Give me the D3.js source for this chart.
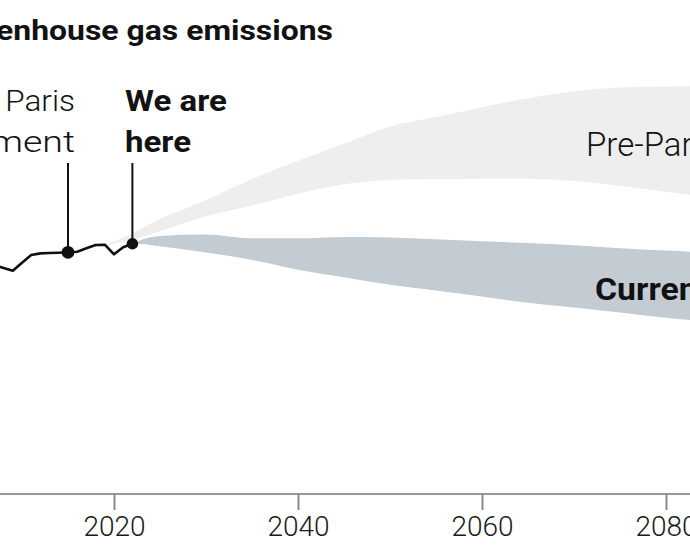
<!DOCTYPE html>
<html>
<head>
<meta charset="utf-8">
<script src="https://cdn.jsdelivr.net/npm/d3@7"></script>
<style>
  html, body { margin: 0; padding: 0; background: #fff; overflow: hidden; }
  svg { display: block; }
</style>
</head>
<body>
<svg id="chart" width="690" height="549"></svg>
<script>
// ---- Data (emissions, arbitrary Gt CO2e-like units) ----
const histYears  = [2007, 2008, 2009, 2010, 2011, 2012, 2013, 2014, 2015, 2016, 2017, 2018, 2019, 2020, 2021, 2022];
const histValues = [48.7, 48.1, 47.5, 49.2, 50.85, 51.2, 51.28, 51.34, 51.43, 51.55, 52.28, 52.98, 53.04, 51.0, 52.49, 53.24];

const preYears = [2019, 2022, 2025, 2030, 2035, 2040, 2045, 2050, 2055, 2060, 2065, 2070, 2075, 2080, 2085];
const preHigh  = [52.9, 55.5, 58.5, 62.5, 67.0, 70.9, 74.5, 78.2, 80.2, 82.3, 84.2, 85.7, 86.5, 86.7, 86.8];
const preLow   = [52.9, 54.1, 55.9, 59.1, 61.4, 63.9, 65.9, 66.8, 67.0, 67.1, 67.1, 66.6, 65.6, 64.3, 63.0];

const curYears = [2022, 2023, 2025, 2030, 2035, 2040, 2045, 2050, 2055, 2060, 2065, 2070, 2075, 2080, 2085];
const curHigh  = [53.24, 54.1, 54.9, 55.2, 54.4, 54.4, 54.7, 54.6, 54.2, 53.8, 53.4, 52.9, 52.3, 51.8, 51.3];
const curLow   = [53.24, 53.2, 52.7, 51.4, 49.8, 47.7, 46.1, 44.5, 43.3, 42.0, 40.7, 39.7, 38.6, 37.5, 36.6];

const tickYears = [2000, 2020, 2040, 2060, 2080];
const markers = [
  { year: 2015, lines: ["Paris", "agreement"], bold: false },
  { year: 2022, lines: ["We are", "here"], bold: true }
];
const title = "Greenhouse gas emissions";
const seriesLabels = { pre: "Pre-Paris policies", cur: "Current policies" };

// ---- Layout ----
const W = 690, H = 549;
const svg = d3.select("#chart");
const x = d3.scaleLinear().domain([2020, 2080]).range([114, 666]);
const y = d3.scaleLinear().domain([0, 100]).range([494, 24]);

const FONT = "Roboto, 'Liberation Sans', sans-serif";
const BOLD_STRETCH = 1.14;
const LIGHT_STRETCH = 1.05;

// ---- Bands ----
const area = d3.area()
  .x(d => x(d.t)).y0(d => y(d.lo)).y1(d => y(d.hi))
  .curve(d3.curveMonotoneX);

const preData = preYears.map((t, i) => ({ t, hi: preHigh[i], lo: preLow[i] }));
const curData = curYears.map((t, i) => ({ t, hi: curHigh[i], lo: curLow[i] }));

svg.append("path").datum(preData).attr("d", area).attr("fill", "#eeeeee");
svg.append("path").datum(curData).attr("d", area).attr("fill", "#c3cbd3");

// ---- Axis ----
const axisG = svg.append("g").attr("transform", `translate(0,${y(0)})`);
axisG.append("line")
  .attr("x1", 0).attr("x2", W).attr("y1", 0).attr("y2", 0)
  .attr("stroke", "#999").attr("stroke-width", 2);
const axis = d3.axisBottom(x).tickValues(tickYears).tickFormat(d3.format("d")).tickSize(16).tickPadding(6);
axisG.call(axis);
axisG.select(".domain").remove();
axisG.selectAll(".tick line").attr("stroke", "#888").attr("stroke-width", 2);
axisG.selectAll(".tick text")
  .attr("font-family", FONT).attr("font-weight", 300).attr("font-size", 28)
  .attr("fill", "#1a1a1a").attr("dy", "0.71em");

// ---- Historical line ----
const histData = histYears.map((t, i) => ({ t, v: histValues[i] }));
const line = d3.line().x(d => x(d.t)).y(d => y(d.v));
svg.append("path").datum(histData).attr("d", line)
  .attr("fill", "none").attr("stroke", "#111").attr("stroke-width", 2.6)
  .attr("stroke-linejoin", "round");

// ---- Markers ----
markers.forEach(m => {
  const i = histYears.indexOf(m.year);
  const px = x(m.year), py = y(histValues[i]);
  svg.append("line").attr("x1", px).attr("x2", px).attr("y1", 163).attr("y2", py)
    .attr("stroke", "#111").attr("stroke-width", 2);
  svg.append("circle").attr("cx", px).attr("cy", py).attr("r", m.bold ? 5.8 : 6.4).attr("fill", "#111");
});

function addText(txt, tx, ty, opts) {
  const sx = opts.stretch || (opts.bold ? BOLD_STRETCH : LIGHT_STRETCH);
  svg.append("text")
    .attr("transform", `translate(${tx},${ty}) scale(${sx},1)`)
    .attr("font-family", FONT)
    .attr("font-weight", opts.bold ? 700 : 300)
    .attr("font-size", opts.size)
    .attr("text-anchor", opts.anchor || "start")
    .attr("fill", opts.color || "#121212")
    .text(txt);
}

// Marker labels
const paris = markers[0], here = markers[1];
addText(paris.lines[0], 75, 111, { size: 30, anchor: "end" });
addText(paris.lines[1], 75, 152, { size: 30, anchor: "end", stretch: 1.25 });
addText(here.lines[0], 125, 111, { size: 29, bold: true });
addText(here.lines[1], 125, 152, { size: 29, bold: true });

// Series labels
addText(seriesLabels.pre, 586, 156, { size: 33, stretch: 1 });
addText(seriesLabels.cur, 595, 300, { size: 31, bold: true, stretch: 1.09 });

// Title
addText(title, 333, 40, { size: 28, bold: true, anchor: "end" });
</script>
</body>
</html>
